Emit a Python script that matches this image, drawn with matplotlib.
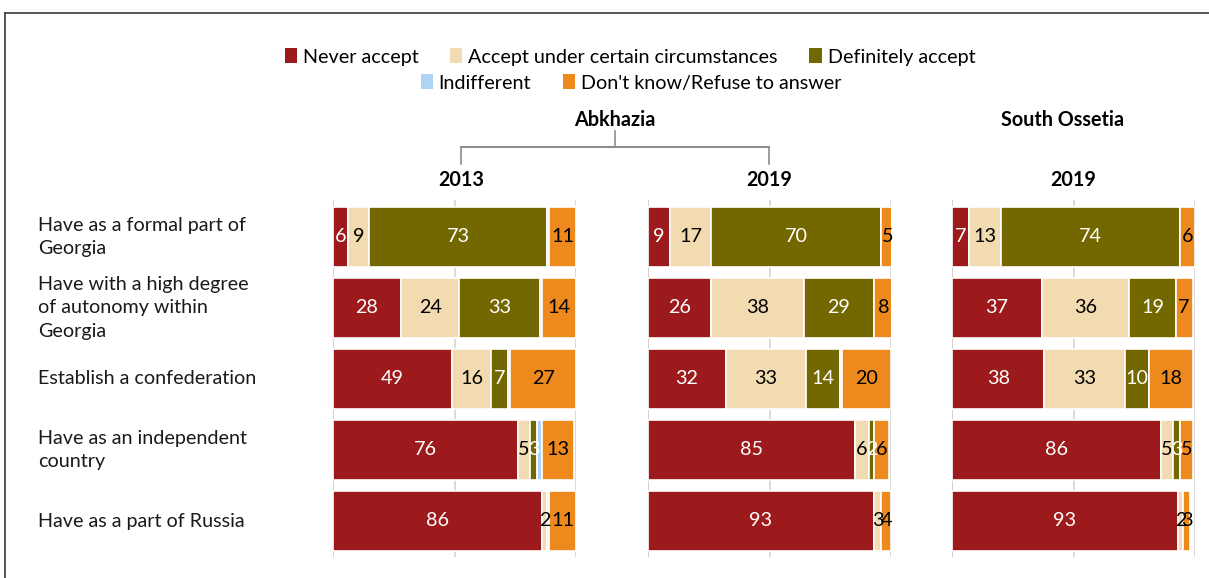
import matplotlib
matplotlib.use("Agg")
import matplotlib.pyplot as plt
from matplotlib.patches import Patch
from matplotlib.lines import Line2D
import numpy as np

plt.rcParams['font.family'] = ['Lato', 'DejaVu Sans']

categories = ["Have as a formal part of\nGeorgia",
              "Have with a high degree\nof autonomy within\nGeorgia",
              "Establish a confederation",
              "Have as an independent\ncountry",
              "Have as a part of Russia"]
series_names = ["Never accept", "Accept under certain circumstances",
                "Definitely accept", "Indifferent", "Don't know/Refuse to answer"]

# values per panel: rows = categories
abkhazia_2013 = {
    "Never accept": [6, 28, 49, 76, 86],
    "Accept under certain circumstances": [9, 24, 16, 5, 2],
    "Definitely accept": [73, 33, 7, 3, 0],
    "Indifferent": [1, 1, 1, 2, 1],
    "Don't know/Refuse to answer": [11, 14, 27, 13, 11],
}
abkhazia_2019 = {
    "Never accept": [9, 26, 32, 85, 93],
    "Accept under certain circumstances": [17, 38, 33, 6, 3],
    "Definitely accept": [70, 29, 14, 2, 0],
    "Indifferent": [0, 0, 1, 0, 0],
    "Don't know/Refuse to answer": [5, 8, 20, 6, 4],
}
south_ossetia_2019 = {
    "Never accept": [7, 37, 38, 86, 93],
    "Accept under certain circumstances": [13, 36, 33, 5, 2],
    "Definitely accept": [74, 19, 10, 3, 0],
    "Indifferent": [0, 0, 0, 0, 0],
    "Don't know/Refuse to answer": [6, 7, 18, 5, 3],
}
panel_years = ["2013", "2019", "2019"]
region_names = ["Abkhazia", "South Ossetia"]

colors = {
    "Never accept": "#9C1A1C",
    "Accept under certain circumstances": "#F3DBB1",
    "Definitely accept": "#736800",
    "Indifferent": "#AFD3F4",
    "Don't know/Refuse to answer": "#EE8A1D",
}
text_colors = {
    "Never accept": "white",
    "Accept under certain circumstances": "black",
    "Definitely accept": "white",
    "Indifferent": None,
    "Don't know/Refuse to answer": "black",
}

W, H = 1209, 578
fig = plt.figure(figsize=(W / 100, H / 100), dpi=100)

def fx(px):
    return px / W

def fy(py):
    return 1 - py / H

panel_left = [333, 648, 952]
year_x = [461, 769, 1073]
panel_width = 243
ax_top, ax_bot = 200, 557
row_centers = [237, 308, 379, 450, 521]
row_step = 71
bar_h = 60 / row_step
y_top = -(row_centers[0] - ax_top) / row_step
y_bot = 4 + (ax_bot - row_centers[-1]) / row_step

panels = [abkhazia_2013, abkhazia_2019, south_ossetia_2019]
FS = 14.2

for pl, data, yr, yx in zip(panel_left, panels, panel_years, year_x):
    ax = fig.add_axes([fx(pl), fy(ax_bot), fx(panel_width), (ax_bot - ax_top) / H])
    ax.set_xlim(0, 100)
    ax.set_ylim(y_bot, y_top)
    for g in [0, 50, 100]:
        ax.axvline(g, color="#D4D4D4" if g else "#C8C8C8", lw=1.2, zorder=0)
    y = np.arange(len(categories))
    left = np.zeros(len(categories))
    for s in series_names:
        vals = np.array(data[s], dtype=float)
        ax.barh(y, vals, left=left, height=bar_h, color=colors[s],
                edgecolor="white", linewidth=1.2, zorder=2)
        tc = text_colors[s]
        if tc is not None:
            for i, v in enumerate(vals):
                if v > 0:
                    ax.text(left[i] + v / 2, y[i], f"{int(v)}", ha="center",
                            va="center", color=tc, fontsize=FS, zorder=3)
        left += vals
    ax.axis("off")
    fig.text(fx(yx), fy(180), yr, ha="center", va="center",
             fontsize=FS, fontweight="bold")

# category labels
for c, yc in zip(categories, row_centers):
    fig.text(fx(38), fy(yc), c, ha="left", va="center", fontsize=FS,
             linespacing=1.45, color="#1a1a1a")

# region headers
fig.text(fx(615), fy(120), region_names[0], ha="center", va="center",
         fontsize=FS, fontweight="bold")
fig.text(fx(1063), fy(120), region_names[1], ha="center", va="center",
         fontsize=FS, fontweight="bold")

# bracket
bc = "#8C8C8C"
fig.add_artist(Line2D([fx(461), fx(769)], [fy(147), fy(147)], color=bc, lw=1.5))
fig.add_artist(Line2D([fx(461), fx(461)], [fy(147), fy(164)], color=bc, lw=1.2))
fig.add_artist(Line2D([fx(769), fx(769)], [fy(147), fy(164)], color=bc, lw=1.2))
fig.add_artist(Line2D([fx(615), fx(615)], [fy(131), fy(147)], color=bc, lw=1.2))

# frame
fc = "#3a3a3a"
fig.add_artist(Line2D([fx(5), 1.0], [fy(13), fy(13)], color=fc, lw=1.2))
fig.add_artist(Line2D([fx(5), fx(5)], [fy(13), 0.0], color=fc, lw=1.2))

# legend
handles1 = [Patch(facecolor=colors[s], edgecolor="none") for s in series_names[:3]]
handles2 = [Patch(facecolor=colors[s], edgecolor="none") for s in series_names[3:]]
common = dict(frameon=False, fontsize=FS, handlelength=0.62, handleheight=0.75,
              handletextpad=0.3, columnspacing=1.6, borderpad=0, borderaxespad=0)
fig.legend(handles1, series_names[:3], loc="center", ncol=3,
           bbox_to_anchor=(fx(630), fy(57)), **common)
fig.legend(handles2, series_names[3:], loc="center", ncol=2,
           bbox_to_anchor=(fx(631), fy(83)), **common)

fig.savefig("out.png", dpi=100)
